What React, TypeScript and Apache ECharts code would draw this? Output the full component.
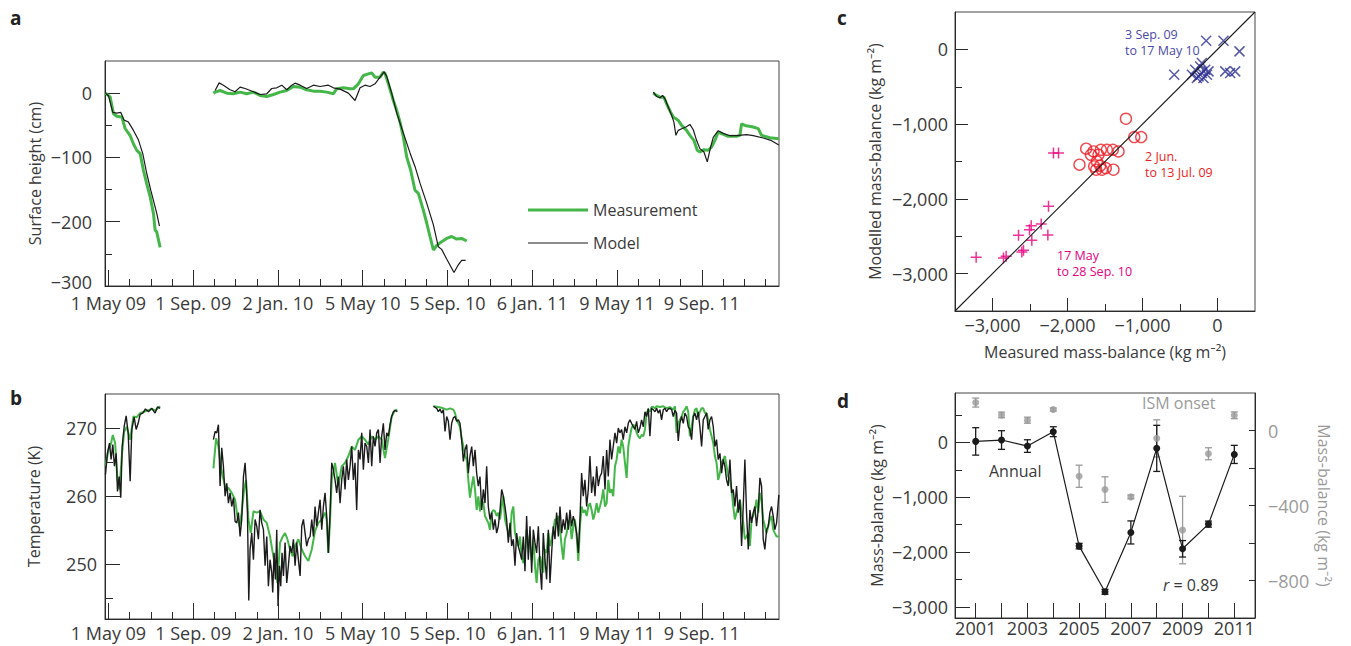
import React, { useEffect, useRef } from 'react';
import * as echarts from 'echarts';

const FONT = "'Open Sans', 'Noto Sans', 'DejaVu Sans', sans-serif";
const TXT = '#3a3a3a';
const AX = '#2a2a2a';
const GREEN = '#45b649';
const BLACK = '#1b1b1b';
const GRAY = '#9a9a9a';
const BLUE = '#2e3192';
const BLUE_TXT = '#4a4aa8';
const RED = '#ec1c24';
const MAGENTA = '#e6007e';
const TICK_FS = 18;

// ---- Panels a & b: x = days since 1 May 2009 ----
const X_MIN = -5;
const X_MAX = 973;
const DATE_MAJOR = [0, 123, 246, 369, 492, 615, 738, 861];
const DATE_LABELS = ['1 May 09', '1 Sep. 09', '2 Jan. 10', '5 May 10', '5 Sep. 10', '6 Jan. 11', '9 May 11', '9 Sep. 11'];
const DATE_MINOR = [30.75, 61.5, 92.25, 153.75, 184.5, 215.25, 276.75, 307.5, 338.25, 399.75, 430.5, 461.25,
  522.75, 553.5, 584.25, 645.75, 676.5, 707.25, 768.75, 799.5, 830.25, 891.75, 922.5, 953.25];

// Panel a: surface height (cm)
const A_MAJOR = [-300, -200, -100, 0];
const A_MINOR = [-250, -150, -50];
const MEAS_A1 = [[-4.3, 0], [2.5, -6], [7.3, -32], [12.1, -36], [19.4, -37], [24.2, -55], [31.5, -66], [36.3, -79],
  [41.1, -89], [46.0, -94], [50.8, -120], [55.6, -141], [60.5, -161], [65.3, -187], [67.7, -213], [70.1, -216], [75.0, -240]];
const MODEL_A1 = [[-4.3, 0], [0, -4], [6.3, -30], [12.1, -31], [17.9, -30], [22.8, -42], [29.0, -45], [36.3, -58],
  [43.6, -73], [49.8, -94], [55.6, -125], [61.4, -151], [66.3, -171], [70.1, -187], [74.0, -207]];
const MEAS_A2 = [[152.3, 0], [154.8, 1.6], [162.0, 4.1], [171.7, 0], [181.4, -1], [191.0, 1.6], [200.7, -1], [210.4, 1.6],
  [220.0, -3.6], [229.7, -5.2], [239.4, -2.1], [249.0, 1.6], [258.7, 4.1], [268.4, 10.3], [278.1, 9.3], [287.7, 5.2],
  [297.4, 3.1], [307.1, 3.1], [316.7, 1.6], [326.4, -1], [331.2, 6.7], [340.9, 8.3], [350.6, 6.7], [355.4, 6.7],
  [362.7, 14.5], [369.9, 27.4], [377.2, 30], [382.0, 31.5], [386.8, 24.8], [394.1, 24.8], [398.9, 32.6], [401.3, 31],
  [406.2, 14.5], [413.4, -11.4], [418.3, -26.9], [423.1, -45], [427.9, -68.2], [432.8, -99.3], [438.6, -120],
  [444.8, -151], [449.7, -156], [456.9, -182], [461.8, -202], [466.6, -223], [471.5, -244], [476.3, -237],
  [483.5, -231], [490.8, -226], [498.0, -223], [505.3, -227], [512.5, -226], [519.8, -230]];
const MODEL_A2 = [[154.8, 4.1], [160.6, 16], [166.8, 12.4], [176.5, 5.2], [183.8, 2.1], [191.0, 9.3], [198.3, 7.2],
  [210.4, 2.1], [220.0, -2.1], [229.7, -1], [236.9, 7.2], [244.2, 8.3], [251.5, 12.4], [258.7, 5.2], [266.0, 12.4],
  [270.8, 15.5], [278.1, 12.4], [287.7, 7.2], [297.4, 12.4], [307.1, 10.3], [319.1, 12.4], [326.4, 8.3], [336.1, 6.2],
  [348.1, 0], [357.8, -11.4], [365.1, 8.3], [372.3, 12.4], [379.6, 10.3], [386.8, 14.5], [394.1, 24.8], [399.9, 33.1],
  [403.8, 26], [411.0, 0], [418.3, -31], [427.9, -62], [437.6, -93], [444.8, -114], [452.1, -140], [461.8, -171],
  [471.5, -205], [478.7, -239], [483.5, -243], [490.8, -258], [501.4, -279], [507.7, -267], [512.5, -260], [518.3, -260]];
const MEAS_A3 = [[790.6, 0], [795.4, -3.6], [800.2, -6.2], [806.0, -6.2], [809.9, -16.5], [815.7, -29.5], [819.6, -37.2],
  [823.4, -39.8], [826.8, -42.4], [831.7, -50.2], [838.9, -57.9], [843.7, -65.6], [849.5, -73.4], [854.4, -88.9],
  [858.2, -91.5], [864.1, -87.9], [870.3, -88.9], [875.2, -83.7], [880.0, -73.4], [884.8, -60.5], [889.7, -63.1],
  [899.3, -67.2], [911.4, -67.2], [916.3, -65.6], [918.7, -47.6], [923.5, -50.2], [935.6, -52.7], [942.9, -55.3],
  [947.7, -65.6], [959.8, -69.3], [972.8, -70.8]];
const MODEL_A3 = [[790.6, 1.6], [795.4, -5.2], [800.2, -7.2], [804.1, -3.6], [807.5, -8.8], [812.3, -21.7], [817.2, -34.6],
  [820.5, -45.0], [823.4, -65.6], [826.8, -57.9], [831.7, -55.3], [838.0, -52.7], [843.7, -48.6], [848.6, -56.9],
  [853.4, -73.4], [858.2, -86.3], [864.1, -91.5], [868.9, -107], [873.7, -84.2], [877.6, -68.7], [884.8, -58.4],
  [892.1, -62.6], [901.8, -66.2], [911.4, -66.2], [925.9, -64.6], [935.6, -66.2], [950.1, -69.8], [962.2, -73.9],
  [972.8, -80.6]];

// Panel b: temperature (K)
const MEAS_B1 = [[-4.3, 264.4], [0, 266.8], [3.4, 267.6], [6.3, 269.0], [9.7, 267.8], [13.1, 262.4], [16.0, 261.0],
  [19.4, 265.9], [22.8, 269.5], [26.6, 270.2], [31.5, 268.3], [36.3, 271.7], [41.1, 271.6], [46.0, 272.2], [51.8, 272.4],
  [56.6, 272.6], [62.9, 272.8], [67.7, 272.6], [75.0, 273.2]];
const MODEL_B1 = [[-4.3, 263.2], [-1.5, 266.3], [1.5, 267.8], [3.9, 265.4], [6.3, 267.6], [8.7, 264.4], [11.2, 266.3],
  [13.1, 260.7], [15.5, 262.9], [17.9, 259.8], [19.9, 267.3], [22.8, 270.2], [25.7, 271.8], [28.6, 269.3], [31.5, 262.2],
  [33.9, 269.8], [37.3, 271.6], [40.2, 269.8], [43.1, 270.7], [46.0, 272.0], [49.8, 272.2], [53.7, 272.8], [58.1, 272.4],
  [62.9, 272.9], [67.7, 272.2], [71.1, 273.1], [75.0, 272.9]];
const MEAS_B2 = [[152.3, 264.1], [156.2, 268.5], [159.6, 267.3], [163.0, 264.4], [165.9, 262.9], [169.3, 261.5],
  [174.1, 261.2], [178.9, 260.5], [183.8, 259.5], [187.1, 257.1], [190.1, 255.6], [193.4, 257.6], [196.8, 261.0],
  [199.7, 262.4], [203.1, 256.6], [206.5, 254.6], [210.4, 257.8], [215.2, 257.6], [220.0, 257.8], [224.9, 256.6],
  [229.7, 256.1], [234.5, 254.1], [238.4, 251.7], [241.8, 249.8], [245.2, 247.3], [249.0, 253.2], [252.9, 254.1],
  [256.3, 254.6], [259.7, 253.7], [263.5, 252.2], [267.4, 251.2], [270.8, 252.7], [275.6, 253.7], [280.5, 252.2],
  [285.3, 251.2], [290.1, 250.5], [295.0, 252.2], [299.8, 254.9], [304.6, 256.1], [309.5, 256.6], [314.3, 257.6],
  [316.7, 256.6], [319.1, 251.7], [321.6, 256.6], [324.0, 262.4], [328.8, 264.9], [333.6, 261.5], [338.5, 264.4],
  [343.3, 264.9], [348.2, 265.9], [353.0, 267.3], [357.8, 266.8], [362.7, 268.3], [367.5, 268.8], [372.3, 268.3],
  [377.2, 267.6], [382.0, 268.8], [386.8, 268.3], [391.7, 268.8], [396.5, 268.3], [401.3, 265.6], [406.2, 268.5],
  [411.0, 271.7], [415.8, 272.6], [419.2, 272.7]];
const MODEL_B2 = [[152.3, 268.3], [154.8, 269.5], [157.2, 269.3], [159.6, 270.5], [162.0, 261.5], [164.4, 267.1],
  [166.8, 264.4], [169.3, 260.0], [171.7, 261.9], [174.1, 259.0], [176.5, 260.5], [178.9, 258.5], [181.4, 259.8],
  [183.8, 256.3], [186.2, 256.1], [188.6, 257.6], [191.0, 254.1], [193.4, 256.6], [195.9, 262.9], [198.3, 264.9],
  [199.7, 262.4], [201.7, 257.6], [203.6, 244.7], [205.5, 252.2], [207.9, 254.6], [210.4, 250.7], [212.8, 256.6],
  [215.2, 255.6], [217.6, 253.7], [220.0, 258.0], [222.4, 256.1], [224.9, 255.1], [227.3, 249.8], [229.7, 254.1],
  [232.1, 246.8], [234.5, 250.7], [236.9, 248.8], [238.4, 245.9], [240.3, 251.7], [242.3, 247.8], [244.2, 255.1],
  [246.1, 243.9], [248.1, 249.8], [250.0, 246.8], [251.9, 251.7], [253.9, 248.3], [256.3, 253.2], [258.7, 247.3],
  [261.1, 249.8], [263.5, 252.7], [266.0, 251.7], [268.4, 253.7], [270.8, 249.8], [273.2, 253.2], [275.6, 250.7],
  [278.1, 248.3], [280.5, 255.6], [282.9, 256.6], [285.3, 254.6], [287.7, 252.7], [290.1, 253.7], [292.6, 254.1],
  [295.0, 256.6], [297.4, 254.1], [299.8, 258.5], [302.2, 255.6], [304.6, 257.6], [307.1, 259.5], [309.5, 255.1],
  [311.9, 258.5], [314.3, 260.5], [316.7, 257.1], [319.1, 251.7], [321.6, 257.6], [324.0, 264.9], [326.4, 263.9],
  [328.8, 262.4], [331.2, 260.5], [333.6, 262.9], [336.1, 259.0], [338.5, 262.4], [340.9, 264.4], [343.3, 261.0],
  [345.7, 265.4], [348.2, 262.4], [350.6, 264.4], [353.0, 267.3], [355.4, 262.4], [357.8, 264.9], [360.2, 258.0],
  [362.7, 266.8], [365.1, 265.4], [367.5, 269.3], [369.9, 263.9], [372.3, 267.8], [374.8, 267.3], [377.2, 264.9],
  [379.6, 269.8], [382.0, 264.4], [384.4, 268.8], [386.8, 267.3], [389.3, 269.3], [391.7, 269.8], [394.1, 264.9],
  [396.5, 268.8], [398.9, 270.7], [401.3, 266.8], [403.8, 269.3], [406.2, 268.8], [408.6, 270.5], [411.0, 271.7],
  [413.4, 272.4], [415.8, 272.6], [419.2, 272.4]];
const MEAS_B3 = [[471.5, 273.2], [478.7, 273.1], [486.0, 272.9], [490.8, 272.7], [495.6, 272.9], [500.5, 272.7],
  [502.9, 272.2], [505.3, 271.2], [507.7, 270.7], [510.1, 270.2], [512.5, 268.5], [515.0, 267.3], [517.4, 265.9],
  [519.8, 265.4], [522.2, 262.4], [524.6, 259.8], [527.1, 261.5], [529.5, 262.9], [531.9, 261.0], [534.3, 258.0],
  [536.7, 260.0], [539.1, 257.8], [541.6, 259.5], [544.0, 259.0], [546.4, 257.1], [548.8, 256.6], [551.2, 256.1],
  [553.6, 255.1], [556.1, 257.6], [558.5, 258.0], [560.9, 257.8], [563.3, 257.1], [565.7, 257.6], [568.2, 256.6],
  [570.6, 258.5], [573.0, 260.0], [575.4, 256.6], [577.8, 255.6], [580.2, 254.6], [582.7, 254.1], [585.1, 257.6],
  [587.5, 258.5], [589.9, 254.6], [592.3, 253.7], [594.7, 252.7], [597.2, 254.1], [599.6, 251.2], [602.0, 250.2],
  [604.4, 251.7], [606.8, 255.1], [609.2, 253.2], [611.7, 252.7], [614.1, 250.7], [616.5, 253.7], [618.9, 249.8],
  [621.3, 247.3], [623.8, 250.7], [626.2, 251.2], [628.6, 249.8], [631.0, 248.8], [633.4, 252.2], [635.8, 251.7],
  [638.3, 254.6], [640.7, 252.7], [643.1, 253.7], [645.5, 255.1], [647.9, 256.6], [650.3, 256.6], [652.8, 257.1],
  [655.2, 255.1], [657.6, 252.7], [660.0, 250.7], [662.4, 253.7], [664.9, 254.6], [667.3, 256.1], [669.7, 256.6],
  [672.1, 253.7], [674.5, 255.6], [676.9, 256.6], [679.4, 254.1], [681.8, 250.5], [684.2, 255.6], [686.6, 258.5],
  [689.0, 257.6], [691.4, 258.0], [693.9, 257.1], [696.3, 258.5], [698.7, 259.0], [701.1, 258.0], [703.5, 256.6],
  [706.0, 257.6], [708.4, 259.0], [710.8, 257.6], [713.2, 258.5], [715.6, 259.5], [718.0, 261.0], [720.5, 258.5],
  [722.9, 259.0], [725.3, 262.4], [727.7, 260.5], [730.1, 261.0], [732.5, 260.0], [735.0, 264.4], [737.4, 265.4],
  [739.8, 267.3], [742.2, 266.3], [744.6, 268.3], [747.0, 267.3], [749.5, 264.9], [751.9, 262.7], [754.3, 267.3],
  [756.7, 268.8], [759.1, 270.0], [761.6, 270.5], [764.0, 270.2], [766.4, 269.3], [768.8, 268.8], [771.2, 268.5],
  [773.6, 269.0], [776.1, 268.8], [778.5, 269.8], [780.9, 272.2], [783.3, 272.7], [785.7, 272.4], [788.1, 273.1],
  [790.6, 273.1], [793.0, 272.9], [795.4, 273.2], [800.2, 273.1], [805.1, 273.2], [809.9, 272.9], [814.7, 273.1],
  [819.6, 272.7], [822.0, 273.2], [824.4, 269.3], [826.8, 270.7], [829.2, 271.2], [831.7, 271.7], [834.1, 272.4],
  [836.5, 272.7], [838.9, 273.2], [841.3, 272.4], [843.7, 268.8], [846.2, 270.2], [848.6, 271.7], [851.0, 272.7],
  [853.4, 272.9], [855.8, 271.7], [858.2, 272.4], [860.7, 272.9], [863.1, 272.9], [865.5, 272.2], [867.9, 272.2],
  [870.3, 271.2], [872.8, 269.8], [875.2, 268.8], [877.6, 267.8], [880.0, 265.9], [882.4, 264.9], [884.8, 262.4],
  [887.3, 263.4], [889.7, 264.9], [892.1, 265.4], [894.5, 265.9], [896.9, 264.4], [899.3, 262.9], [901.8, 262.4],
  [904.2, 261.0], [906.6, 258.5], [909.0, 256.6], [911.4, 257.6], [913.8, 258.5], [916.3, 259.5], [918.7, 257.6],
  [921.1, 256.1], [923.5, 253.7], [925.9, 254.1], [928.4, 254.6], [930.8, 252.7], [933.2, 256.6], [935.6, 257.1],
  [938.0, 258.0], [940.4, 259.5], [942.9, 257.6], [945.3, 260.5], [947.7, 259.5], [950.1, 256.6], [952.5, 255.6],
  [955.0, 254.6], [957.4, 255.6], [959.8, 256.6], [962.2, 257.1], [964.6, 255.1], [967.0, 254.6], [969.5, 254.1],
  [972.8, 254.1]];
const MODEL_B3 = [[471.5, 273.2], [476.3, 272.9], [478.7, 272.4], [481.1, 272.8], [483.5, 272.2], [486.0, 272.7],
  [488.4, 269.5], [490.8, 271.7], [493.2, 271.0], [495.6, 268.3], [498.0, 270.7], [500.5, 271.5], [502.9, 271.7],
  [505.3, 271.0], [507.7, 271.2], [510.1, 270.7], [512.5, 268.3], [515.0, 265.1], [517.4, 266.8], [519.8, 267.6],
  [522.2, 263.4], [524.6, 265.9], [527.1, 267.3], [529.5, 264.4], [531.9, 266.8], [534.3, 263.4], [536.7, 261.5],
  [539.1, 262.9], [541.6, 258.0], [544.0, 261.0], [546.4, 259.0], [548.8, 264.4], [551.2, 258.5], [553.6, 256.6],
  [556.1, 257.6], [558.5, 255.1], [560.9, 256.6], [563.3, 254.6], [565.7, 255.6], [568.2, 258.0], [570.6, 261.0],
  [573.0, 260.0], [575.4, 258.5], [577.8, 256.6], [580.2, 253.2], [582.7, 256.1], [585.1, 252.7], [587.5, 253.7],
  [589.9, 249.8], [592.3, 254.6], [594.7, 252.7], [597.2, 251.7], [599.6, 250.7], [602.0, 254.1], [604.4, 249.0],
  [606.8, 257.1], [609.2, 250.7], [611.7, 255.6], [614.1, 248.8], [616.5, 255.1], [618.9, 253.2], [621.3, 251.7],
  [623.8, 255.6], [626.2, 249.8], [628.6, 246.3], [631.0, 254.6], [633.4, 250.7], [635.8, 247.8], [638.3, 255.1],
  [640.7, 247.3], [643.1, 251.7], [645.5, 255.6], [647.9, 253.7], [650.3, 257.6], [652.8, 254.1], [655.2, 258.5],
  [657.6, 254.6], [660.0, 256.6], [662.4, 255.1], [664.9, 257.6], [667.3, 255.1], [669.7, 258.0], [672.1, 255.6],
  [674.5, 257.1], [676.9, 256.1], [679.4, 254.6], [681.8, 251.7], [684.2, 256.6], [686.6, 263.4], [689.0, 260.0],
  [691.4, 262.4], [693.9, 258.5], [696.3, 261.0], [698.7, 265.9], [701.1, 260.5], [703.5, 262.9], [706.0, 260.0],
  [708.4, 264.4], [710.8, 261.5], [713.2, 262.9], [715.6, 263.4], [718.0, 265.9], [720.5, 261.0], [722.9, 266.8],
  [725.3, 262.9], [727.7, 268.3], [730.1, 265.4], [732.5, 267.3], [735.0, 269.3], [737.4, 267.8], [739.8, 270.0],
  [742.2, 269.3], [744.6, 269.8], [747.0, 268.3], [749.5, 270.2], [751.9, 269.3], [754.3, 270.7], [756.7, 271.2],
  [759.1, 270.7], [761.6, 270.2], [764.0, 269.8], [766.4, 271.0], [768.8, 269.3], [771.2, 270.0], [773.6, 271.2],
  [776.1, 270.2], [778.5, 272.4], [780.9, 271.7], [783.3, 272.9], [785.7, 268.8], [788.1, 272.9], [790.6, 272.7],
  [793.0, 272.4], [795.4, 272.9], [797.8, 272.2], [800.2, 272.7], [802.6, 271.2], [805.1, 272.7], [807.5, 272.9],
  [809.9, 272.4], [812.3, 272.8], [814.7, 272.9], [817.2, 272.7], [819.6, 271.7], [822.0, 272.6], [824.4, 272.2],
  [826.8, 268.1], [829.2, 270.7], [831.7, 271.7], [834.1, 270.7], [836.5, 272.2], [838.9, 271.7], [841.3, 270.2],
  [843.7, 269.8], [846.2, 268.3], [848.6, 271.7], [851.0, 272.2], [853.4, 271.2], [855.8, 272.4], [858.2, 270.2],
  [860.7, 267.3], [863.1, 271.2], [865.5, 271.7], [867.9, 272.2], [870.3, 269.8], [872.8, 271.2], [875.2, 271.7],
  [877.6, 270.2], [880.0, 267.3], [882.4, 268.3], [884.8, 265.4], [887.3, 266.3], [889.7, 263.4], [892.1, 265.4],
  [894.5, 264.4], [896.9, 262.4], [899.3, 261.5], [901.8, 265.4], [904.2, 260.5], [906.6, 261.0], [909.0, 258.5],
  [911.4, 261.5], [913.8, 257.6], [916.3, 259.5], [918.7, 252.7], [921.1, 258.5], [923.5, 265.4], [925.9, 257.6],
  [928.4, 252.2], [930.8, 258.0], [933.2, 256.1], [935.6, 257.6], [938.0, 258.5], [940.4, 255.6], [942.9, 258.0],
  [945.3, 262.7], [947.7, 261.5], [950.1, 253.7], [952.5, 252.2], [955.0, 255.1], [957.4, 255.6], [959.8, 257.6],
  [962.2, 258.5], [964.6, 257.1], [967.0, 255.1], [969.5, 256.1], [972.8, 260.2]];

// ---- Panel c: modelled vs measured mass balance (kg m-2) ----
const C_MIN = -3500;
const C_MAX = 500;
const C_MAJOR = [-3000, -2000, -1000, 0];
const C_MINOR = [-2500, -1500, -500];
const ONE_TO_ONE = [[-3500, -3500], [500, 500]];
const PERIOD_SEP09_MAY10 = [[-151, 116], [80, 116], [293, -27], [-577, -339], [-341, -339], [-297, -272], [-253, -361],
  [-231, -228], [-208, -316], [-187, -383], [-164, -272], [-141, -339], [-275, -383], [-208, -182], [-120, -294],
  [103, -294], [236, -294], [169, -316]];
const PERIOD_JUN_JUL09 = [[-1221, -928], [-1110, -1173], [-1017, -1173], [-1751, -1329], [-1653, -1365], [-1555, -1343],
  [-1475, -1343], [-1395, -1343], [-1320, -1365], [-1688, -1410], [-1587, -1410], [-1840, -1543], [-1608, -1499],
  [-1564, -1557], [-1617, -1610], [-1541, -1610], [-1387, -1610], [-1644, -1566], [-1489, -1588]];
const PERIOD_MAY_SEP10 = [[-2187, -1387], [-2120, -1387], [-2253, -2100], [-3218, -2782], [-2853, -2791], [-2818, -2769],
  [-2653, -2488], [-2507, -2412], [-2484, -2358], [-2351, -2336], [-2262, -2483], [-2476, -2555], [-2609, -2711],
  [-2587, -2688]];

// ---- Panel d: annual & ISM-onset mass balance ----
const YEARS = [2001, 2002, 2003, 2004, 2005, 2006, 2007, 2008, 2009, 2010, 2011];
const YEAR_LABELS = [2001, 2003, 2005, 2007, 2009, 2011];
const ANNUAL = [18, 43, -67, 195, -1890, -2723, -1641, -109, -1939, -1489, -219];
const ANNUAL_ERR = [250, 170, 115, 90, 50, 45, 210, 420, 150, 55, 165];
const ISM = [149, 83, 55, 112, -244, -315, -354, -42, -531, -124, 81];
const ISM_ERR = [24, 15, 16, 8, 59, 68, 10, 99, 180, 32, 18];
const D_LEFT_MAJOR = [-3000, -2000, -1000, 0];
const D_LEFT_MINOR = [-2500, -1500, -500, 500];
const D_RIGHT_TICKS = [-800, -600, -400, -200, 0];
const D_RIGHT_LABELS = [-800, -400, 0];

const fmtNum = (v: number) => (v < 0 ? '\u2212' : '') + Math.abs(v).toLocaleString('en-US');
const fmtDate = (v: number) => {
  const i = DATE_MAJOR.indexOf(v);
  return i >= 0 ? DATE_LABELS[i] : '';
};
// lowest label of panel a sits a little higher, clear of the date labels
const fmtA = (v: number) => (v === A_MAJOR[0] ? '{low|' + fmtNum(v) + '}' : fmtNum(v));

const minorAxis = (gridIndex: number, min: number, max: number, vals: number[], len: number, position: string) => ({
  type: 'value', gridIndex, min, max, position,
  axisLine: { show: false, onZero: false },
  axisTick: { show: true, inside: true, length: len, customValues: vals, lineStyle: { color: AX, width: 1 } },
  axisLabel: { show: false },
  splitLine: { show: false },
});

const majorAxis = (gridIndex: number, min: number, max: number, vals: number[], len: number, position: string,
  labelVals: number[], fmt: (v: number) => string, margin: number, extra: any = {}, labelExtra: any = {}) => ({
  type: 'value', gridIndex, min, max, position,
  axisLine: { show: true, onZero: false, lineStyle: { color: AX, width: 1 } },
  axisTick: { show: true, inside: true, length: len, customValues: vals, lineStyle: { color: AX, width: 1 } },
  axisLabel: {
    show: true, customValues: labelVals, formatter: fmt, fontSize: TICK_FS, lineHeight: 15,
    color: TXT, margin, fontFamily: FONT, ...labelExtra,
  },
  splitLine: { show: false },
  nameTextStyle: { fontSize: 16, color: TXT, fontFamily: FONT },
  nameMoveOverlap: false,
  ...extra,
});

const errBars = (color: string, capHalf: number) => (params: any, api: any) => {
  const x = api.value(0);
  const lo = api.coord([x, api.value(1)]);
  const hi = api.coord([x, api.value(2)]);
  const style = { stroke: color, lineWidth: 1.3 };
  return {
    type: 'group',
    children: [
      { type: 'line', shape: { x1: lo[0], y1: lo[1], x2: hi[0], y2: hi[1] }, style },
      { type: 'line', shape: { x1: lo[0] - capHalf, y1: lo[1], x2: lo[0] + capHalf, y2: lo[1] }, style },
      { type: 'line', shape: { x1: hi[0] - capHalf, y1: hi[1], x2: hi[0] + capHalf, y2: hi[1] }, style },
    ],
  };
};

const lineS = (name: string, data: number[][], axis: number, color: string, width: number) => ({
  type: 'line', name, data, xAxisIndex: axis, yAxisIndex: axis, symbol: 'none',
  lineStyle: { color, width }, itemStyle: { color }, silent: true,
});

const sup = 'kg m\u207B\u00B2';

export default function App() {
  const ref = useRef<HTMLDivElement>(null);
  useEffect(() => {
    if (!ref.current) return;
    const chart = echarts.init(ref.current, null, { renderer: 'svg' });
    const annualBars = YEARS.map((y, i) => [y, ANNUAL[i] - ANNUAL_ERR[i], ANNUAL[i] + ANNUAL_ERR[i]]);
    const ismBars = YEARS.map((y, i) => [y, ISM[i] - ISM_ERR[i], ISM[i] + ISM_ERR[i]]);
    const annualPts = YEARS.map((y, i) => [y, ANNUAL[i]]);
    const ismPts = YEARS.map((y, i) => [y, ISM[i]]);

    const gridBase = { show: true, borderColor: '#444', borderWidth: 1, backgroundColor: 'transparent', containLabel: false, outerBoundsMode: 'none' };

    const option: any = {
      animation: false,
      backgroundColor: '#ffffff',
      textStyle: { fontFamily: FONT },
      grid: [
        { ...gridBase, left: 105, top: 61, width: 674, height: 225 },
        { ...gridBase, left: 105, top: 394, width: 674, height: 225 },
        { ...gridBase, left: 955, top: 12, width: 300, height: 299 },
        { ...gridBase, left: 955, top: 393, width: 300, height: 225 },
      ],
      legend: {
        data: [
          { name: 'Measurement', icon: 'path://M0,0H60V3H0Z' },
          { name: 'Model', icon: 'path://M0,0H60V1.2H0Z' },
        ],
        orient: 'vertical', left: 523, top: 197, symbolKeepAspect: true,
        itemWidth: 60, itemHeight: 16, itemGap: 17, selectedMode: false,
        textStyle: { fontSize: 16, color: TXT, fontFamily: FONT },
      },
      xAxis: [
        majorAxis(0, X_MIN, X_MAX, DATE_MAJOR, 16, 'bottom', DATE_MAJOR, fmtDate, 9),
        minorAxis(0, X_MIN, X_MAX, DATE_MINOR, 7, 'bottom'),
        majorAxis(1, X_MIN, X_MAX, DATE_MAJOR, 16, 'bottom', DATE_MAJOR, fmtDate, 6),
        minorAxis(1, X_MIN, X_MAX, DATE_MINOR, 7, 'bottom'),
        majorAxis(2, C_MIN, C_MAX, C_MAJOR, 13, 'bottom', C_MAJOR, fmtNum, 6, {
          name: 'Measured mass-balance (' + sup + ')', nameLocation: 'middle', nameGap: 33,
        }),
        minorAxis(2, C_MIN, C_MAX, C_MINOR, 7, 'bottom'),
        majorAxis(3, 2000.2, 2011.8, YEARS, 15, 'bottom', YEAR_LABELS, (v: number) => String(v), 2),
      ],
      yAxis: [
        majorAxis(0, -300, 50, A_MAJOR, 15, 'left', A_MAJOR, fmtA, 13, {
          name: 'Surface height (cm)', nameLocation: 'middle', nameGap: 62, nameRotate: 90,
        }, {
          rich: { low: { fontSize: TICK_FS, lineHeight: 15, color: TXT, fontFamily: FONT, padding: [0, 0, 8, 0] } },
        }),
        minorAxis(0, -300, 50, A_MINOR, 7, 'left'),
        majorAxis(1, 242, 275, [250, 260, 270], 15, 'left', [250, 260, 270], fmtNum, 8, {
          name: 'Temperature (K)', nameLocation: 'middle', nameGap: 63, nameRotate: 90,
        }),
        minorAxis(1, 242, 275, [245, 255, 265], 8, 'left'),
        majorAxis(2, C_MIN, C_MAX, C_MAJOR, 13, 'left', C_MAJOR, fmtNum, 7, {
          name: 'Modelled mass-balance (' + sup + ')', nameLocation: 'middle', nameGap: 72, nameRotate: 90,
        }),
        minorAxis(2, C_MIN, C_MAX, C_MINOR, 7, 'left'),
        majorAxis(3, -3200, 900, D_LEFT_MAJOR, 15, 'left', D_LEFT_MAJOR, fmtNum, 7, {
          name: 'Mass-balance (' + sup + ')', nameLocation: 'middle', nameGap: 70, nameRotate: 90,
        }),
        minorAxis(3, -3200, 900, D_LEFT_MINOR, 7, 'left'),
        majorAxis(3, -1000, 200, D_RIGHT_TICKS, 6, 'right', D_RIGHT_LABELS, fmtNum, 13, {
          name: 'Mass-balance (' + sup + ')', nameLocation: 'middle', nameGap: 61, nameRotate: -90,
          nameTextStyle: { fontSize: 16, color: GRAY, fontFamily: FONT },
        }, { color: GRAY }),
      ],
      series: [
        // panel a
        lineS('Measurement', MEAS_A1, 0, GREEN, 3),
        lineS('Measurement', MEAS_A2, 0, GREEN, 3),
        lineS('Measurement', MEAS_A3, 0, GREEN, 3),
        lineS('Model', MODEL_A1, 0, BLACK, 1.2),
        lineS('Model', MODEL_A2, 0, BLACK, 1.2),
        lineS('Model', MODEL_A3, 0, BLACK, 1.2),
        // panel b
        lineS('Measurement', MEAS_B1, 2, GREEN, 2),
        lineS('Measurement', MEAS_B2, 2, GREEN, 2),
        lineS('Measurement', MEAS_B3, 2, GREEN, 2),
        lineS('Model', MODEL_B1, 2, BLACK, 1.4),
        lineS('Model', MODEL_B2, 2, BLACK, 1.4),
        lineS('Model', MODEL_B3, 2, BLACK, 1.4),
        // panel c
        lineS('1:1', ONE_TO_ONE, 4, BLACK, 1.1),
        {
          type: 'scatter', name: '17 May to 28 Sep. 10', data: PERIOD_MAY_SEP10, xAxisIndex: 4, yAxisIndex: 4,
          symbol: 'path://M5,0L5,10M0,5L10,5', symbolSize: 11,
          itemStyle: { color: 'transparent', borderColor: MAGENTA, borderWidth: 1.5 },
        },
        {
          type: 'scatter', name: '2 Jun. to 13 Jul. 09', data: PERIOD_JUN_JUL09, xAxisIndex: 4, yAxisIndex: 4,
          symbol: 'circle', symbolSize: 11,
          itemStyle: { color: 'transparent', borderColor: RED, borderWidth: 1.4 },
        },
        {
          type: 'scatter', name: '3 Sep. 09 to 17 May 10', data: PERIOD_SEP09_MAY10, xAxisIndex: 4, yAxisIndex: 4,
          symbol: 'path://M0,0L10,10M10,0L0,10', symbolSize: 10,
          itemStyle: { color: 'transparent', borderColor: BLUE, borderWidth: 1.5 },
        },
        // panel d
        {
          type: 'custom', name: 'ISM err', data: ismBars, xAxisIndex: 6, yAxisIndex: 8,
          renderItem: errBars(GRAY, 3.5), encode: { x: 0, y: [1, 2] }, silent: true,
        },
        {
          type: 'scatter', name: 'ISM onset', data: ismPts, xAxisIndex: 6, yAxisIndex: 8,
          symbol: 'circle', symbolSize: 7, itemStyle: { color: GRAY },
        },
        {
          type: 'custom', name: 'Annual err', data: annualBars, xAxisIndex: 6, yAxisIndex: 6,
          renderItem: errBars(BLACK, 3.5), encode: { x: 0, y: [1, 2] }, silent: true,
        },
        {
          type: 'line', name: 'Annual', data: annualPts, xAxisIndex: 6, yAxisIndex: 6,
          symbol: 'circle', symbolSize: 7, lineStyle: { color: BLACK, width: 1.2 }, itemStyle: { color: BLACK },
        },
      ],
      graphic: [
        { type: 'text', left: 10, top: 8, style: { text: 'a', fontSize: 19, fontWeight: 'bold', fill: '#222', fontFamily: FONT } },
        { type: 'text', left: 10, top: 388, style: { text: 'b', fontSize: 19, fontWeight: 'bold', fill: '#222', fontFamily: FONT } },
        { type: 'text', left: 837, top: 8, style: { text: 'c', fontSize: 19, fontWeight: 'bold', fill: '#222', fontFamily: FONT } },
        { type: 'text', left: 837, top: 391, style: { text: 'd', fontSize: 19, fontWeight: 'bold', fill: '#222', fontFamily: FONT } },
        { type: 'text', left: 1125, top: 26, style: { text: '3 Sep. 09\nto 17 May 10', fontSize: 12.5, lineHeight: 16, fill: BLUE_TXT, fontFamily: FONT } },
        { type: 'text', left: 1145, top: 148, style: { text: '2 Jun.\nto 13 Jul. 09', fontSize: 12.5, lineHeight: 16, fill: RED, fontFamily: FONT } },
        { type: 'text', left: 1057, top: 247, style: { text: '17 May\nto 28 Sep. 10', fontSize: 12.5, lineHeight: 16, fill: MAGENTA, fontFamily: FONT } },
        { type: 'text', left: 989, top: 463, style: { text: 'Annual', fontSize: 16, fill: TXT, fontFamily: FONT } },
        { type: 'text', left: 1142, top: 395, style: { text: 'ISM onset', fontSize: 16, fill: GRAY, fontFamily: FONT } },
        {
          type: 'text', left: 1163, top: 577,
          style: { text: '{i|r} = 0.89', fontSize: 16, fill: TXT, fontFamily: FONT, rich: { i: { fontStyle: 'italic', fontSize: 16, fill: TXT, fontFamily: FONT } } },
        },
      ],
    };
    chart.setOption(option);
    return () => chart.dispose();
  }, []);
  return (
    <div
      ref={ref}
      style={{ position: 'fixed', left: 0, top: 0, width: 1351, height: 646, background: '#fff' }}
    />
  );
}
